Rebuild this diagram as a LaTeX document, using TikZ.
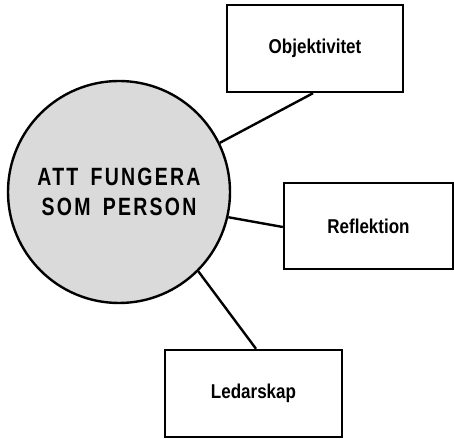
\documentclass[tikz,border=0pt]{standalone}
\usepackage{fontspec}
\setmainfont{Liberation Sans}[FakeStretch=0.83, BoldFont={Liberation Sans Bold}]
\newfontfamily\hubfont{Liberation Sans Bold}[FakeStretch=0.78, LetterSpace=9, WordSpace=1.6]
\newfontfamily\topicfont{Liberation Sans Bold}[FakeStretch=0.85]
\definecolor{hubgray}{RGB}{218,218,218}
\tikzset{
  hub/.style={circle, draw, line width=2.4pt, fill=hubgray, minimum size=222pt,
    inner sep=0pt, align=center, font=\hubfont\fontsize{25}{30.7}\selectfont},
  topic/.style={rectangle, draw, line width=2.4pt, fill=white, inner sep=0pt,
    minimum height=87pt, font=\topicfont\fontsize{20}{24}\selectfont},
  link/.style={line width=2.4pt}
}
\begin{document}
\begin{tikzpicture}[x=1pt,y=1pt]
\useasboundingbox (0,0) rectangle (454,438);
\node[hub] (hub) at (119,246) {ATT FUNGERA\\SOM PERSON};
\node[topic, minimum width=176pt] (obj) at (315,389.5) {Objektivitet};
\node[topic, minimum width=169pt, minimum height=86pt] (refl) at (368.5,212) {Reflektion};
\node[topic, minimum width=177pt] (led) at (253.5,44.5) {Ledarskap};
\draw[link] (hub.26) -- ([xshift=-2pt]obj.south);
\draw[link] (hub.-13) -- ([yshift=-1pt]refl.west);
\draw[link] (hub.-45) -- ([xshift=2.5pt]led.north);
\end{tikzpicture}
\end{document}
